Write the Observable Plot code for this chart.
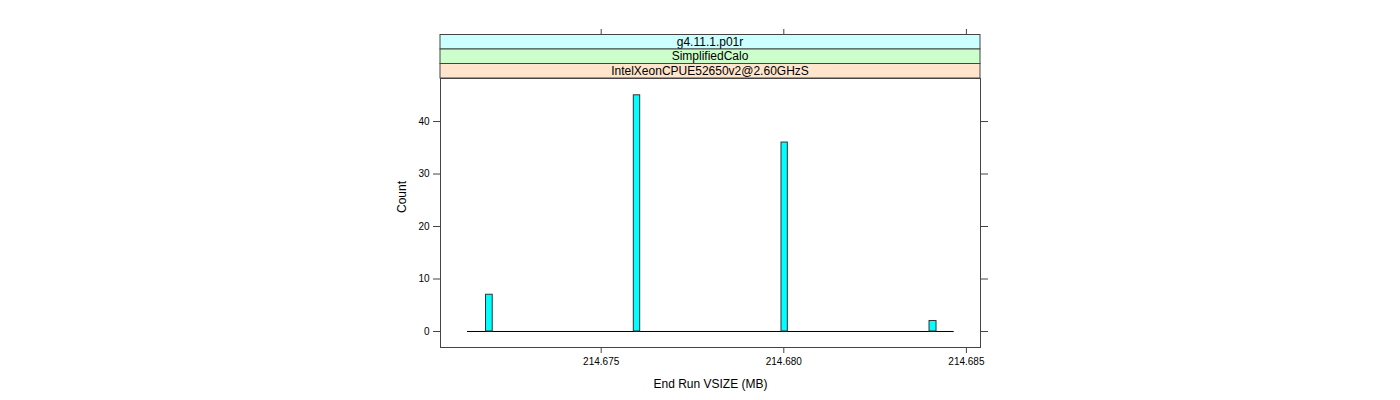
<!DOCTYPE html>
<html>
<head>
<meta charset="utf-8">
<script src="https://cdn.jsdelivr.net/npm/d3@7"></script>
<script src="https://cdn.jsdelivr.net/npm/@observablehq/plot@0.6"></script>
<style>
  html, body { margin: 0; padding: 0; background: #fff; }
  svg { display: block; }
</style>
</head>
<body>
<div id="chart"></div>
<script>
// Histogram bins (MB) and counts
const binStart = [214.671846, 214.675893, 214.679937, 214.683990];
const binEnd   = [214.672030, 214.676068, 214.680110, 214.684182];
const counts   = [7, 45, 36, 2];
// full extent of the histogram breaks (baseline)
const breaksRange = [214.671339, 214.684666];
const xTicks = [214.675, 214.680, 214.685];
const yTicks = [0, 10, 20, 30, 40];
const stripLabels = ["g4.11.1.p01r", "SimplifiedCalo", "IntelXeonCPUE52650v2@2.60GHzS"];
const stripColors = ["#CCFFFF", "#CCFFCC", "#FFE5CC"];
const xLabel = "End Run VSIZE (MB)";
const yLabel = "Count";

const bins = binStart.map((s, i) => ({x1: s, x2: binEnd[i], count: counts[i]}));

const W = 1400, H = 400;
const mL = 440, mR = 420, mT = 78, mB = 53;
const axisColor = "#444";
const font = "'Liberation Sans', Arial, sans-serif";
const noText = () => "";

const plot = Plot.plot({
  width: W, height: H,
  marginLeft: mL, marginRight: mR, marginTop: mT, marginBottom: mB,
  style: {fontFamily: font, fontSize: "10px", background: "#fff", color: "#000"},
  x: {domain: [214.67060, 214.685386], label: null},
  y: {domain: [-3.05, 48.2], label: null},
  marks: [
    Plot.ruleY([0], {x1: breaksRange[0], x2: breaksRange[1], stroke: "#000", strokeWidth: 1}),
    Plot.rectY(bins, {x1: "x1", x2: "x2", y1: 0, y2: "count", fill: "#00FFFF", stroke: "#333", strokeWidth: 1, inset: 0}),
    Plot.frame({stroke: axisColor, strokeWidth: 1}),
    Plot.axisX({anchor: "bottom", ticks: xTicks, tickFormat: d3.format(".3f"), tickSize: 6, tickPadding: 4, stroke: axisColor, label: null}),
    Plot.axisX({anchor: "top", ticks: xTicks, tickFormat: noText, tickSize: 7, dy: -43, stroke: axisColor, label: null}),
    Plot.axisY({anchor: "left", ticks: yTicks, tickSize: 7, tickPadding: 4, stroke: axisColor, label: null}),
    Plot.axisY({anchor: "right", ticks: yTicks, tickFormat: noText, tickSize: 7, stroke: axisColor, label: null}),
    Plot.text([xLabel], {frameAnchor: "bottom", dy: 37, fontSize: 12, fill: "#000", lineAnchor: "middle"}),
    Plot.text([yLabel], {frameAnchor: "left", dx: -38, rotate: -90, fontSize: 12, fill: "#000", lineAnchor: "middle"})
  ]
});

document.getElementById("chart").appendChild(plot);

// Lattice strips above the panel
const svg = d3.select(plot);
const stripH = 14.5;
const stripTop = mT - stripH * stripLabels.length;
const g = svg.append("g").attr("class", "strips");
stripLabels.forEach((lab, i) => {
  const y = stripTop + i * stripH;
  g.append("rect").attr("x", mL).attr("y", y).attr("width", W - mL - mR).attr("height", stripH)
    .attr("fill", stripColors[i]).attr("stroke", axisColor).attr("stroke-width", 1);
  g.append("text").attr("x", mL + (W - mL - mR) / 2).attr("y", y + stripH / 2).attr("dy", "0.35em")
    .attr("text-anchor", "middle").attr("font-size", "12px")
    .attr("font-family", font).attr("fill", "#000").text(lab);
});
</script>
</body>
</html>
